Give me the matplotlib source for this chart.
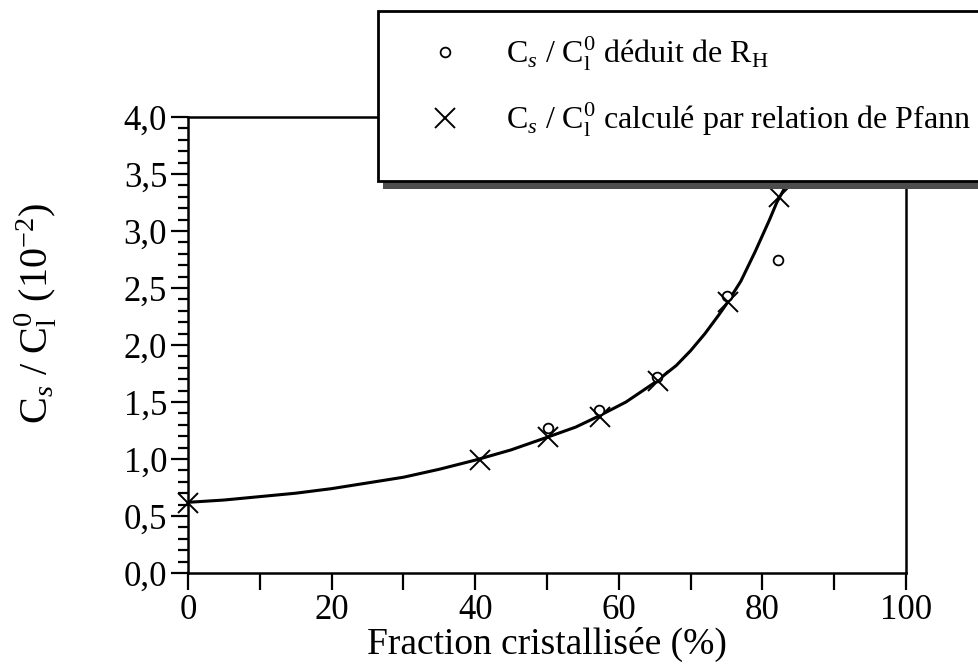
import matplotlib.pyplot as plt
from matplotlib.patches import Rectangle
from matplotlib.ticker import MultipleLocator, FuncFormatter

# values (y in units of 10^-2)
x_pfann = [0, 40.7, 50.1, 57.4, 65.5, 75.2, 82.3]
y_pfann = [0.61, 0.99, 1.19, 1.37, 1.68, 2.38, 3.30]

x_hall = [50.1, 57.2, 65.3, 75.1, 82.2]
y_hall = [1.27, 1.43, 1.72, 2.43, 2.75]

# smooth drawn curve, points read along it
x_curve = [0, 5, 10, 15, 20, 25, 30, 35, 40, 45, 50, 54, 57, 61, 65, 68,
           70, 72, 74, 75, 77, 79, 81, 82, 83.3]
y_curve = [0.62, 0.64, 0.67, 0.70, 0.74, 0.79, 0.84, 0.91, 0.99, 1.08, 1.19,
           1.28, 1.37, 1.50, 1.67, 1.82, 1.95, 2.10, 2.27, 2.36, 2.56, 2.82,
           3.10, 3.25, 3.40]

plt.rcParams['font.family'] = ['Liberation Serif', 'DejaVu Serif']
plt.rcParams['mathtext.fontset'] = 'custom'
plt.rcParams['mathtext.rm'] = 'Liberation Serif'
plt.rcParams['mathtext.it'] = 'Liberation Serif:italic'

W, H = 979, 664
fig = plt.figure(figsize=(W / 100, H / 100), dpi=100)
ax = fig.add_axes([188 / W, 91 / H, 718 / W, 456 / H])

ax.plot(x_curve, y_curve, color='black', lw=2.2)
ax.plot(x_hall, y_hall, 'o', mfc='white', mec='black', ms=7, mew=1.3, ls='none',
        clip_on=False,
        label=r'C$_s$ / C$_\mathrm{l}^\mathrm{0}$ déduit de R$_\mathrm{H}$')
ax.plot(x_pfann, y_pfann, 'x', color='black', ms=14, mew=1.4, ls='none',
        clip_on=False,
        label=r'C$_s$ / C$_\mathrm{l}^\mathrm{0}$ calculé par relation de Pfann')

ax.set_xlim(0, 100)
ax.set_ylim(0, 4)
ax.xaxis.set_major_locator(MultipleLocator(20))
ax.xaxis.set_minor_locator(MultipleLocator(10))
ax.yaxis.set_major_locator(MultipleLocator(0.5))
ax.yaxis.set_minor_locator(MultipleLocator(0.1))
ax.yaxis.set_major_formatter(FuncFormatter(lambda v, p: f'{v:.1f}'.replace('.', ',')))

for s in ax.spines.values():
    s.set_linewidth(1.8)
ax.tick_params(axis='both', which='major', direction='out', length=12, width=1.6,
               labelsize=25, pad=3)
ax.tick_params(axis='x', which='minor', direction='out', length=12, width=1.6)
ax.tick_params(axis='y', which='minor', direction='out', length=7, width=1.6)

ax.set_xlabel('Fraction cristallisée (%)', fontsize=27, labelpad=0)
ax.set_ylabel(r'C$_s$ / C$_\mathrm{l}^\mathrm{0}$ (10$^{-2}$)', fontsize=29)
ax.yaxis.set_label_coords(-0.18, 0.57)

# legend box runs off the right edge, with a dark shadow along its bottom
shadow = Rectangle((383 / W, 1 - 189 / H), 1.0, 170 / H, transform=fig.transFigure,
                   facecolor='0.3', edgecolor='none', zorder=4)
frame = Rectangle((378 / W, 1 - 181 / H), 1.0, 170 / H, transform=fig.transFigure,
                  facecolor='white', edgecolor='black', lw=2, zorder=4.5)
fig.add_artist(shadow)
fig.add_artist(frame)

leg = fig.legend(loc='upper left', bbox_to_anchor=(378 / W, 1 - 19 / H),
                 bbox_transform=fig.transFigure, fontsize=23, frameon=False,
                 borderaxespad=0, borderpad=0.5,
                 handlelength=3.2, handletextpad=0.3, labelspacing=0.86)
leg.set_zorder(5)

fig.savefig('out.png', dpi=100)
